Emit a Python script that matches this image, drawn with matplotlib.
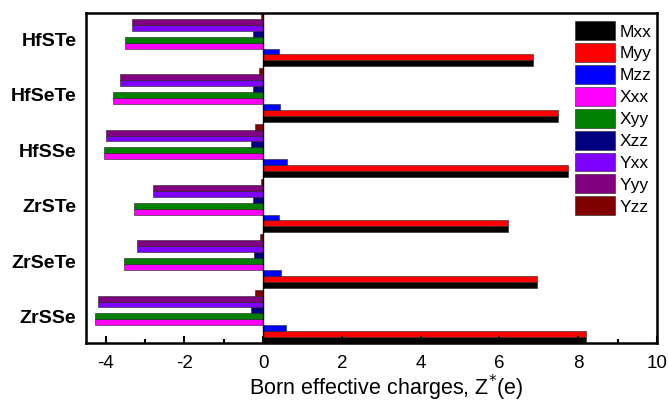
import matplotlib
matplotlib.use("Agg")
import matplotlib.pyplot as plt
import numpy as np
from matplotlib.ticker import MultipleLocator

plt.rcParams['font.family'] = ['Liberation Sans', 'DejaVu Sans']
plt.rcParams['axes.unicode_minus'] = False

compounds = ["ZrSSe", "ZrSeTe", "ZrSTe", "HfSSe", "HfSeTe", "HfSTe"]
series = ["Mxx", "Myy", "Mzz", "Xxx", "Xyy", "Xzz", "Yxx", "Yyy", "Yzz"]
colors = ["#000000", "#ff0000", "#0000ff", "#ff00ff", "#008000",
          "#000080", "#8000ff", "#800080", "#800000"]

Mxx = [8.19, 6.95, 6.22, 7.74, 7.49, 6.85]
Myy = [8.19, 6.95, 6.22, 7.74, 7.49, 6.85]
Mzz = [0.59, 0.44, 0.39, 0.61, 0.42, 0.41]
Xxx = [-4.28, -3.54, -3.29, -4.05, -3.82, -3.50]
Xyy = [-4.28, -3.54, -3.29, -4.05, -3.82, -3.50]
Xzz = [-0.30, -0.23, -0.26, -0.32, -0.25, -0.26]
Yxx = [-4.20, -3.21, -2.79, -3.99, -3.64, -3.34]
Yyy = [-4.20, -3.21, -2.79, -3.99, -3.64, -3.34]
Yzz = [-0.20, -0.09, -0.06, -0.22, -0.10, -0.05]

values = [Mxx, Myy, Mzz, Xxx, Xyy, Xzz, Yxx, Yyy, Yzz]

fig = plt.figure(figsize=(6.68, 4.03), dpi=100)
ax = fig.add_axes([86/668, 60/403, 571/668, 330/403])

h = 0.107
y = np.arange(len(compounds))
for j, (name, vals, c) in enumerate(zip(series, values, colors)):
    ax.barh(y + (j - 4) * h, vals, height=h, color=c, edgecolor="#222222",
            linewidth=0.4, label=name)

ax.set_xlim(-4.5, 10)
ax.set_ylim(-4.5 * h, 5 + 4.5 * h)
ax.set_yticks(y)
ax.set_yticklabels(compounds, fontsize=14, fontweight="bold")
ax.tick_params(axis="y", length=0, pad=7)
ax.xaxis.set_major_locator(MultipleLocator(2))
ax.xaxis.set_minor_locator(MultipleLocator(1))
ax.tick_params(axis="x", which="major", direction="in", length=5, width=1.5,
               labelsize=13.5, pad=9)
ax.tick_params(axis="x", which="minor", direction="in", length=3, width=1.5)
for s in ax.spines.values():
    s.set_linewidth(1.8)
ax.axvline(0, color="black", linewidth=1.0, zorder=3)

ax.set_xlabel("Born effective charges, Z$^{*}$(e)", fontsize=15.5)
ax.xaxis.set_label_coords(0.525, -0.09)

leg = ax.legend(loc="upper left", bbox_to_anchor=(0.856, 0.975), frameon=False,
                fontsize=12.5, handlelength=2.3, handleheight=1.3,
                labelspacing=0.17, handletextpad=0.3, borderpad=0,
                borderaxespad=0)

fig.savefig("out.png", dpi=100)
